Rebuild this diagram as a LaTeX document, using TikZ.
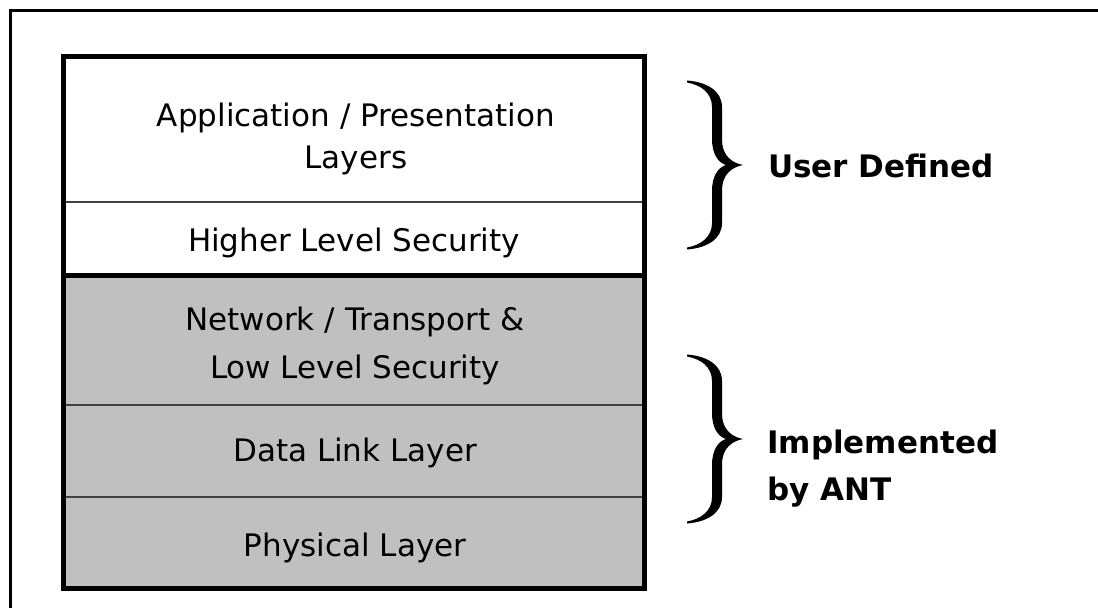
\documentclass[tikz,border=0pt]{standalone}
\usepackage{fontspec}
\setmainfont{DejaVu Sans}
\definecolor{layergray}{HTML}{C0C0C0}
\definecolor{sepgray}{HTML}{404040}
\tikzset{
  layertext/.style={inner sep=0pt, anchor=base, align=center, font=\fontsize{31}{41.5}\selectfont},
  sidetext/.style={inner sep=0pt, anchor=base west, align=left, font=\fontsize{31}{47}\selectfont\bfseries},
  sepline/.style={draw=sepgray, line width=1.6pt},
  curly/.pic={
    \fill[black] (0,0) .. controls (-10,-2) and (-21,-8) .. (-21,-26) -- (-21,-58)
      .. controls (-21,-74) and (-36,-83) .. (-56,-84.5) -- (-56,-82.5)
      .. controls (-42,-80) and (-31,-72) .. (-31,-58) -- (-31,-26)
      .. controls (-31,-10) and (-24,-2) .. (-17,0)
      .. controls (-24,2) and (-31,10) .. (-31,26) -- (-31,58)
      .. controls (-31,72) and (-42,80) .. (-56,82.5) -- (-56,84.5)
      .. controls (-36,83) and (-21,74) .. (-21,58) -- (-21,26)
      .. controls (-21,8) and (-10,2) .. (0,0) -- cycle;
  }
}
\begin{document}
\begin{tikzpicture}[x=1pt,y=-1pt]
\useasboundingbox (0,0) rectangle (1098,608);
% outer frame (only left and top edges visible)
\draw[line width=3pt] (10,608) -- (10,10) -- (1098,10);
% layer backgrounds
\fill[white] (63,56.5) rectangle (644.5,275.5);
\fill[layergray] (63,275.5) rectangle (644.5,588);
% separators
\draw[sepline] (63,202) -- (644.5,202);
\draw[sepline] (63,405) -- (644.5,405);
\draw[sepline] (63,497) -- (644.5,497);
\draw[line width=5pt] (63,275.5) -- (644.5,275.5);
\draw[line width=5pt] (63,56.5) rectangle (644.5,588);
% layer texts (base anchor = baseline of the last line)
\node[layertext] (app) at (356,168) {Application / Presentation\\Layers};
\node[layertext] (hls) at (354,251) {Higher Level Security};
\node[layertext] (net) at (355,378) {Network / Transport \&\\[6pt]Low Level Security};
\node[layertext] (dll) at (355,461) {Data Link Layer};
\node[layertext] (phy) at (355,556) {Physical Layer};
% braces
\pic at (743,165) {curly};
\pic at (743,439) {curly};
% side labels
\node[sidetext] (user) at (768,177) {User Defined};
\node[sidetext] (ant) at (767,500) {Implemented\\by ANT};
\end{tikzpicture}
\end{document}
